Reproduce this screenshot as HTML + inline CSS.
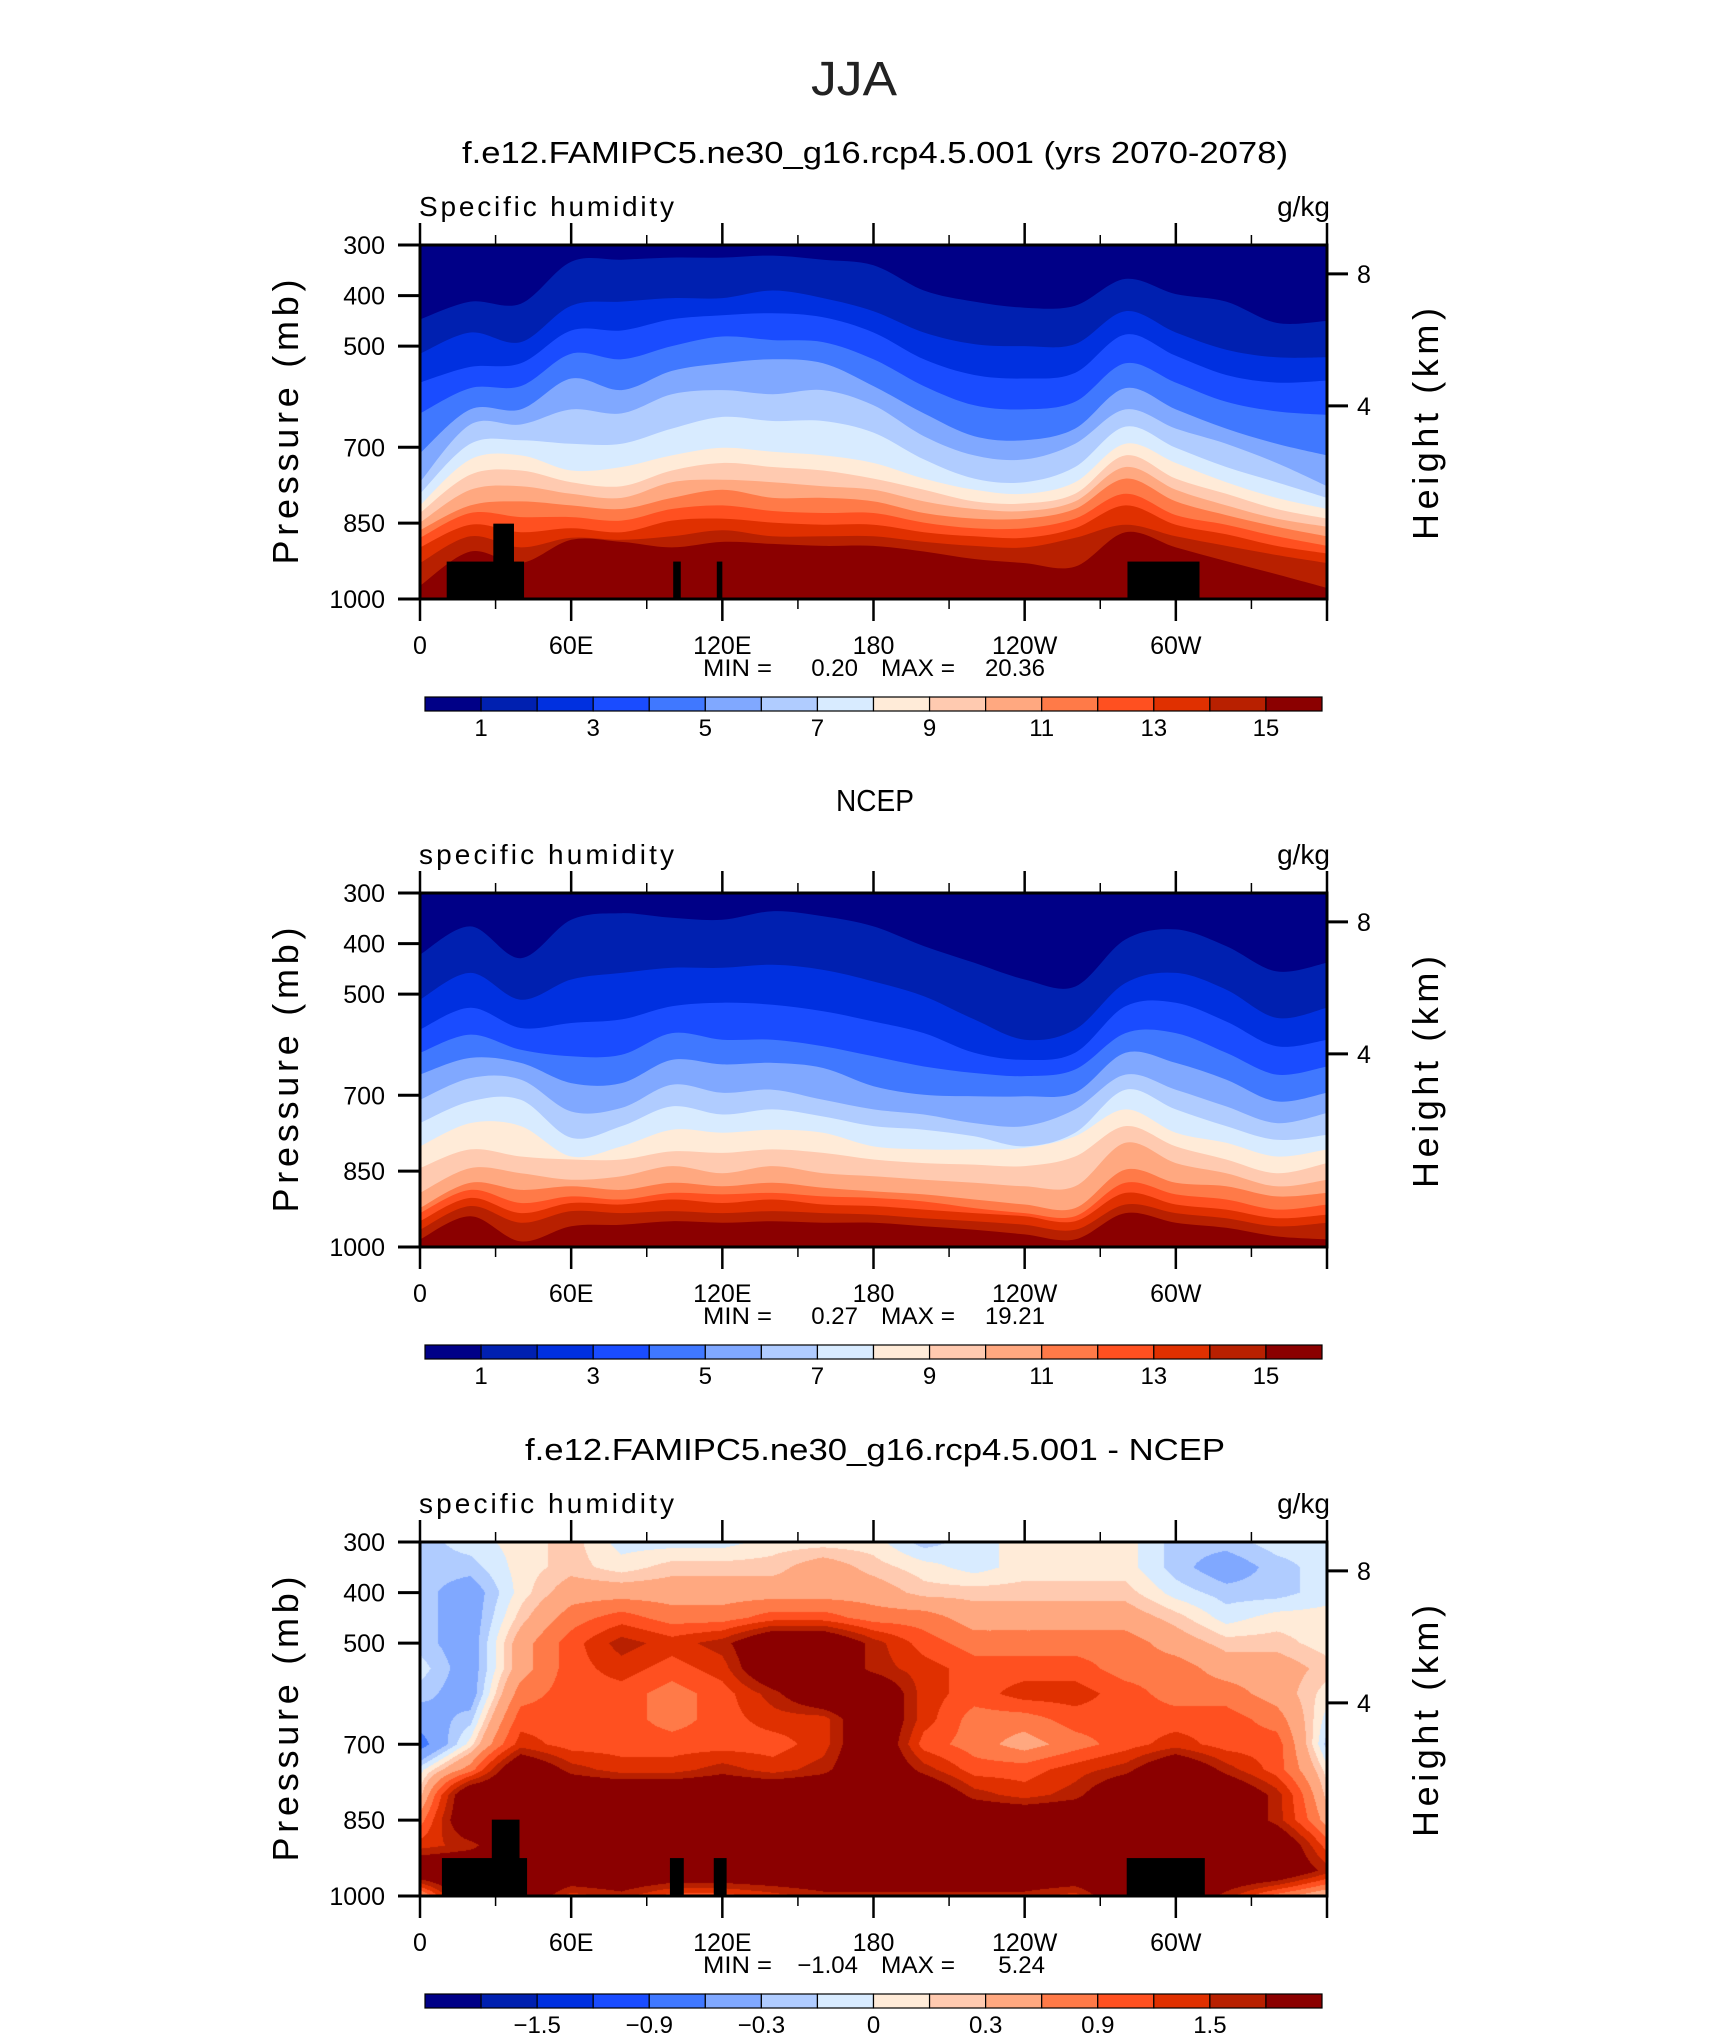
<!DOCTYPE html>
<html><head><meta charset="utf-8">
<style>
html,body{margin:0;padding:0;background:#fff;}
#wrap{position:relative;width:1710px;height:2038px;overflow:hidden;}
#c3{position:absolute;left:420px;top:1542px;}
svg{position:absolute;left:0;top:0;}
text{font-family:"Liberation Sans",sans-serif;fill:#000;}
</style></head>
<body>
<div id="wrap">
<canvas id="c3" width="907" height="354"></canvas>
<svg id="chart" width="1710" height="2038" xmlns="http://www.w3.org/2000/svg"></svg>
</div>
<script>
// ---------- data ----------
const lonNodes = [0,20,40,60,80,100,120,140,160,180,200,220,240,260,280,300,320,340,360];
const xTickLons = [0,60,120,180,240,300];
const xTickLabels = ['0','60E','120E','180','120W','60W'];
const pTicks = [300,400,500,700,850,1000];
const kmLabels = ['8','4'];
const kmPressure = [357,618];
const fillColors = ['#000087','#0020b0','#0030e0','#1a4cff','#4078ff','#80a8ff','#b0ccff','#d8ebff','#ffebd8','#ffcab0','#ffa880','#ff7a48','#ff5020','#e03000','#b82000','#8b0000'];
const cbLabels1 = ['1','3','5','7','9','11','13','15'];
const cbLabelIdx1 = [1,3,5,7,9,11,13,15];
const cbLabels3 = ['\u22121.5','\u22120.9','\u22120.3','0','0.3','0.9','1.5'];
const cbLabelIdx3 = [2,4,6,8,10,12,14];
const diffLevels = [-1.8,-1.5,-1.2,-0.9,-0.6,-0.3,-0.15,0,0.15,0.3,0.6,0.9,1.2,1.5,1.8];

const p1Boundaries = [
[447,412,416,333,329,325,325,321,329,340,390,412,424,420,367,397,412,454,450],
[515,473,492,420,412,405,405,390,405,431,473,496,500,496,431,473,507,522,522],
[572,541,534,469,469,447,439,435,443,473,526,557,564,553,477,519,557,572,568],
[633,583,579,515,526,500,481,488,492,526,579,617,625,610,534,572,610,629,636],
[712,625,625,564,587,549,534,526,534,579,633,678,686,663,583,625,663,693,716],
[769,655,655,625,633,595,587,595,587,617,678,716,724,693,625,663,693,731,777],
[792,693,686,693,693,663,640,648,648,671,724,762,769,739,659,701,739,769,800],
[815,724,716,746,739,716,701,709,716,731,762,784,792,769,693,731,769,800,822],
[830,754,746,769,777,746,731,739,746,762,784,807,811,792,716,762,792,822,841],
[849,784,777,792,800,769,764,769,777,784,807,822,826,807,739,784,815,841,857],
[864,815,807,815,822,800,784,800,800,807,830,841,841,822,762,807,834,857,876],
[879,830,838,838,845,822,815,826,830,830,849,860,860,841,792,834,853,876,895],
[898,853,868,860,868,845,841,849,853,853,868,876,879,860,815,853,872,895,910],
[929,876,898,879,883,876,864,876,876,876,887,895,898,879,853,876,895,913,929],
[974,906,929,883,887,898,887,891,895,895,906,921,929,936,868,898,925,951,978]
];
const p2Boundaries = [
[422,366,429,353,340,349,353,336,346,366,405,438,471,485,392,372,405,455,438],
[511,458,511,471,458,448,448,442,452,475,504,550,590,570,478,458,491,547,527],
[570,527,567,557,550,524,517,521,534,554,577,616,630,616,524,517,554,603,590],
[616,580,610,623,620,577,590,590,603,623,643,656,662,649,577,577,616,659,643],
[659,626,636,676,676,630,639,636,646,682,699,702,702,695,616,636,669,712,695],
[709,666,669,732,725,679,695,689,709,728,738,755,761,728,659,689,722,755,735],
[755,712,709,784,761,722,738,728,742,761,768,781,801,774,689,728,761,788,778],
[801,755,761,821,801,768,774,768,774,801,807,807,804,781,728,774,794,821,807],
[844,807,821,827,827,811,814,807,814,827,834,837,840,821,761,801,827,854,834],
[893,844,854,867,860,840,854,840,854,860,867,873,880,880,794,834,854,880,867],
[923,873,887,880,887,873,880,873,883,890,896,906,916,923,847,873,880,900,893],
[933,887,913,900,906,893,896,893,900,903,910,923,933,939,873,896,906,926,916],
[949,903,933,913,916,906,913,906,916,919,926,933,939,949,893,916,926,943,936],
[966,919,952,929,933,929,933,929,933,936,943,949,956,966,916,933,943,959,952],
[985,939,989,959,956,949,952,949,952,952,959,966,975,985,933,952,962,979,985]
];
const diffPressures = [300,350,400,450,500,550,600,650,700,750,800,850,900,950,1000];
const diffValues = [
[-0.22,-0.07,0.07,0.22,-0.07,-0.07,-0.07,0.07,0.07,0.07,-0.22,-0.07,0.07,0.07,0.07,-0.22,-0.22,-0.07,-0.07],
[-0.22,-0.22,0.07,0.22,0.07,0.22,0.22,0.22,0.45,0.22,0.07,-0.07,0.07,0.07,0.07,-0.22,-0.45,-0.22,-0.07],
[-0.22,-0.45,0.07,0.45,0.45,0.45,0.45,0.45,0.45,0.45,0.22,0.22,0.22,0.22,0.22,-0.07,-0.22,-0.22,-0.07],
[-0.22,-0.45,0.22,0.75,1.05,0.75,0.75,1.05,1.05,0.75,0.75,0.45,0.45,0.45,0.45,0.22,-0.07,0.07,0.07],
[-0.22,-0.45,0.45,1.05,1.65,1.35,1.65,2.5,2.5,1.65,1.05,0.75,0.75,0.75,0.75,0.45,0.22,0.22,0.07],
[-0.07,-0.45,0.45,1.05,1.35,1.05,1.35,2.5,2.5,1.65,1.35,1.05,1.05,1.05,0.75,0.75,0.45,0.45,0.22],
[-0.22,-0.45,0.75,1.05,1.05,0.75,1.05,1.65,2.5,2.5,1.35,1.05,1.35,1.35,1.05,0.75,0.75,0.45,0.07],
[-0.45,-0.22,1.05,1.05,1.05,0.75,1.05,1.35,1.35,2.5,1.35,0.75,0.75,1.05,1.05,1.05,1.05,0.75,-0.07],
[-0.75,0.07,1.35,1.05,1.05,1.05,1.05,1.05,1.35,2.5,1.05,0.75,0.45,0.75,1.05,1.35,1.05,1.05,-0.22],
[-0.07,0.75,2.5,1.65,1.35,1.35,1.65,1.35,1.65,2.5,1.65,1.05,1.05,1.35,1.65,2.5,1.65,1.05,0.07],
[0.22,2.5,2.5,2.5,2.5,2.5,2.5,2.5,2.5,2.5,2.5,1.65,1.35,1.65,2.5,2.5,2.5,1.65,0.22],
[0.75,2.5,2.5,2.5,2.5,2.5,2.5,2.5,2.5,2.5,2.5,2.5,2.5,2.5,2.5,2.5,2.5,1.65,0.45],
[1.35,1.65,2.5,2.5,2.5,2.5,2.5,2.5,2.5,2.5,2.5,2.5,2.5,2.5,2.5,2.5,2.5,2.5,1.05],
[2.5,2.5,2.5,2.5,2.5,2.5,2.5,2.5,2.5,2.5,2.5,2.5,2.5,2.5,2.5,2.5,2.5,2.5,1.65],
[0.45,2.5,2.5,1.35,1.65,1.05,1.05,1.35,1.65,1.65,1.65,1.65,1.65,1.35,2.5,2.5,1.65,0.75,0.22]
];
const mask1Start = [10.6,29.1,100.5,117.8,280.8];
const mask1End = [41.3,37.3,103.5,120.0,309.4];
const mask1Top = [926,851,926,926,926];
const mask3Start = [8.7,28.5,99.2,116.6,280.5];
const mask3End = [42.5,39.5,104.7,121.7,311.5];
const mask3Top = [925,849,925,925,925];

const panelTitles = ['f.e12.FAMIPC5.ne30_g16.rcp4.5.001 (yrs 2070-2078)','NCEP','f.e12.FAMIPC5.ne30_g16.rcp4.5.001 - NCEP'];
const panelTitleWidths = [826,78,700];
const leftLabels = ['Specific humidity','specific humidity','specific humidity'];
const minVals = ['0.20','0.27','\u22121.04'];
const maxVals = ['20.36','19.21','5.24'];

const L = 420, W = 907, H = 354;
const tops = [245, 893, 1542];
const NS = 'http://www.w3.org/2000/svg';
const svg = document.getElementById('chart');
function mk(tag, attrs, parent){
  const e = document.createElementNS(NS, tag);
  for (const k in attrs) e.setAttribute(k, attrs[k]);
  (parent||svg).appendChild(e);
  return e;
}
function xs(lon){ return L + lon/360*W; }
function ysF(T){ return p => T + (p-300)/700*H; }

function curvePath(pts){
  let d = 'M'+pts[0][0]+','+pts[0][1];
  for (let i=0;i<pts.length-1;i++){
    const p0=pts[Math.max(0,i-1)], p1=pts[i], p2=pts[i+1], p3=pts[Math.min(pts.length-1,i+2)];
    const c1x=p1[0]+(p2[0]-p0[0])/6, c1y=p1[1]+(p2[1]-p0[1])/6;
    const c2x=p2[0]-(p3[0]-p1[0])/6, c2y=p2[1]-(p3[1]-p1[1])/6;
    d += ' C'+c1x.toFixed(1)+','+c1y.toFixed(1)+' '+c2x.toFixed(1)+','+c2y.toFixed(1)+' '+p2[0].toFixed(1)+','+p2[1].toFixed(1);
  }
  return d;
}

const jja = mk('text',{x:854,y:95,'text-anchor':'middle','font-size':48,textLength:86,lengthAdjust:'spacingAndGlyphs',style:'fill:#222'});
jja.textContent='JJA';



const defs = mk('defs',{});
tops.forEach((T,pi)=>{
  const ys = ysF(T);
  const g = mk('g',{});
  
  
  const cp = mk('clipPath',{id:'clip'+pi},defs);
  mk('rect',{x:L,y:T,width:W,height:H},cp);

  const t = mk('text',{x:875,y:T-82,'text-anchor':'middle','font-size':31,textLength:panelTitleWidths[pi],lengthAdjust:'spacingAndGlyphs'},g);
  t.textContent = panelTitles[pi];
  
  

  if (pi < 2){
    const bnds = pi===0 ? p1Boundaries : p2Boundaries;
    const cg = mk('g',{'clip-path':'url(#clip'+pi+')'},g);
    
    
    const bg = mk('rect',{x:L,y:T,width:W,height:H,fill:fillColors[0]},cg);
    
    
    bnds.forEach((row,k)=>{
      const pts = row.map((p,i)=>[xs(lonNodes[i]), ys(p)]);
      const d = curvePath(pts)+' L'+(L+W+2)+','+pts[pts.length-1][1]+' L'+(L+W+2)+','+(T+H+2)+' L'+(L-2)+','+(T+H+2)+' L'+(L-2)+','+pts[0][1]+' Z';
      const band = mk('path',{d:d,fill:fillColors[k+1]},cg);
      
      
    });
  }
  if (pi !== 1){
    const ms = pi===0?mask1Start:mask3Start, me = pi===0?mask1End:mask3End, mt = pi===0?mask1Top:mask3Top;
    ms.forEach((s,i)=>{
      const r = mk('rect',{x:xs(s),y:ys(mt[i]),width:xs(me[i])-xs(s),height:T+H-ys(mt[i]),fill:'#000'},g);
      
      
    });
  }
  const fr = mk('rect',{x:L,y:T,width:W,height:H,fill:'none',stroke:'#000','stroke-width':3},g);
  
  

  for (let lon=0; lon<=360; lon+=30){
    const major = lon%60===0;
    const x = xs(lon);
    const len = major?22:10;
    const tk = mk('line',{x1:x,x2:x,y1:T,y2:T-len,stroke:'#000','stroke-width':major?2.5:1.5},g);
    
    
    const bk = mk('line',{x1:x,x2:x,y1:T+H,y2:T+H+len,stroke:'#000','stroke-width':major?2.5:1.5},g);
    
    
  }
  xTickLons.forEach((lon,i)=>{
    const lb = mk('text',{x:xs(lon),y:T+H+55,'text-anchor':'middle','font-size':25},g);
    lb.textContent = xTickLabels[i];
    
    
  });
  pTicks.forEach(p=>{
    const y = ys(p);
    const tk = mk('line',{x1:L-22,x2:L,y1:y,y2:y,stroke:'#000','stroke-width':3},g);
    
    
    const lb = mk('text',{x:385,y:y+9,'text-anchor':'end','font-size':25},g);
    lb.textContent = String(p);
    
    
  });
  kmPressure.forEach((p,i)=>{
    const y = ys(p);
    const tk = mk('line',{x1:L+W,x2:L+W+21,y1:y,y2:y,stroke:'#000','stroke-width':3},g);
    
    
    const lb = mk('text',{x:1364,y:y+9,'text-anchor':'middle','font-size':25},g);
    lb.textContent = kmLabels[i];
    
    
  });
  const yt = mk('text',{x:0,y:0,'text-anchor':'middle','font-size':36,textLength:285,lengthAdjust:'spacing',transform:'translate(298,'+(T+177)+') rotate(-90)'},g);
  yt.textContent = 'Pressure (mb)';
  
  
  const ht = mk('text',{x:0,y:0,'text-anchor':'middle','font-size':36,textLength:232,lengthAdjust:'spacing',transform:'translate(1438,'+(T+179)+') rotate(-90)'},g);
  ht.textContent = 'Height (km)';
  
  
  const ll = mk('text',{x:419,y:T-29,'font-size':28,textLength:255,lengthAdjust:'spacing'},g);
  ll.textContent = leftLabels[pi];
  
  
  const rl = mk('text',{x:1330,y:T-29,'text-anchor':'end','font-size':28},g);
  rl.textContent = 'g/kg';
  
  
  const mn = mk('text',{x:703,y:T+H+77,'font-size':24,textLength:69,lengthAdjust:'spacingAndGlyphs'},g);
  mn.textContent = 'MIN =';
  
  
  const mnv = mk('text',{x:858,y:T+H+77,'text-anchor':'end','font-size':24},g);
  mnv.textContent = minVals[pi];
  
  
  const mx = mk('text',{x:881,y:T+H+77,'font-size':24,textLength:74,lengthAdjust:'spacingAndGlyphs'},g);
  mx.textContent = 'MAX =';
  
  
  const mxv = mk('text',{x:1045,y:T+H+77,'text-anchor':'end','font-size':24},g);
  mxv.textContent = maxVals[pi];
  
  
  const cbT = T+H+98, cbL = 425, cbW = 897, cbH = 14, bw = cbW/16;
  const cbg = mk('g',{},g);
  
  
  fillColors.forEach((c,i)=>{
    const r = mk('rect',{x:cbL+i*bw,y:cbT,width:bw,height:cbH,fill:c,stroke:'#000','stroke-width':1.2},cbg);
    
    
  });
  const labs = pi===2?cbLabels3:cbLabels1, idx = pi===2?cbLabelIdx3:cbLabelIdx1;
  labs.forEach((s,i)=>{
    const lb = mk('text',{x:cbL+idx[i]*bw,y:cbT+39,'text-anchor':'middle','font-size':24},cbg);
    lb.textContent = s;
    
    
  });
});

(function(){
  const cv = document.getElementById('c3');
  const ctx = cv.getContext('2d');
  const img = ctx.createImageData(W,H);
  const rgb = fillColors.map(h=>[parseInt(h.substr(1,2),16),parseInt(h.substr(3,2),16),parseInt(h.substr(5,2),16)]);
  const nC = lonNodes.length, nR = diffPressures.length;
  for (let py=0; py<H; py++){
    const p = 300 + (py+0.5)/H*700;
    let r = 0; while (r<nR-2 && diffPressures[r+1] < p) r++;
    const fy = Math.min(1,Math.max(0,(p-diffPressures[r])/(diffPressures[r+1]-diffPressures[r])));
    for (let px=0; px<W; px++){
      const lon = (px+0.5)/W*360;
      let c = 0; while (c<nC-2 && lonNodes[c+1] < lon) c++;
      const fx = Math.min(1,Math.max(0,(lon-lonNodes[c])/(lonNodes[c+1]-lonNodes[c])));
      const v = (1-fy)*((1-fx)*diffValues[r][c]+fx*diffValues[r][c+1]) + fy*((1-fx)*diffValues[r+1][c]+fx*diffValues[r+1][c+1]);
      let k = 0; while (k<diffLevels.length && v >= diffLevels[k]) k++;
      const o = (py*W+px)*4, col = rgb[k];
      img.data[o]=col[0]; img.data[o+1]=col[1]; img.data[o+2]=col[2]; img.data[o+3]=255;
    }
  }
  ctx.putImageData(img,0,0);
})();
</script>
</body></html>
